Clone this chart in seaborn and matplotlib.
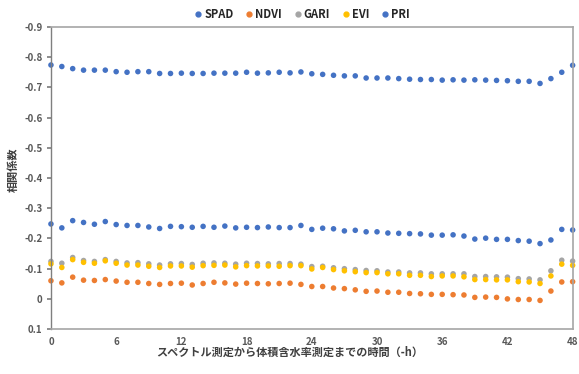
import matplotlib
matplotlib.use("Agg")
import matplotlib.pyplot as plt
from matplotlib.lines import Line2D
import pandas as pd
import seaborn as sns

hours = list(range(49))

spad = [-0.774, -0.769, -0.762, -0.757, -0.757, -0.757, -0.752, -0.750, -0.752, -0.752,
        -0.746, -0.746, -0.747, -0.746, -0.746, -0.747, -0.747, -0.747, -0.750, -0.747,
        -0.748, -0.750, -0.748, -0.751, -0.745, -0.743, -0.740, -0.738, -0.738, -0.731,
        -0.731, -0.731, -0.729, -0.727, -0.726, -0.726, -0.724, -0.725, -0.724, -0.725,
        -0.724, -0.723, -0.722, -0.720, -0.720, -0.713, -0.729, -0.750, -0.773]
ndvi = [-0.060, -0.053, -0.072, -0.062, -0.061, -0.064, -0.059, -0.055, -0.055, -0.051,
        -0.048, -0.051, -0.052, -0.046, -0.051, -0.055, -0.053, -0.049, -0.052, -0.051,
        -0.050, -0.051, -0.052, -0.048, -0.041, -0.041, -0.036, -0.034, -0.030, -0.025,
        -0.026, -0.022, -0.022, -0.018, -0.017, -0.015, -0.015, -0.014, -0.013, -0.005,
        -0.006, -0.005, 0.000, 0.002, 0.002, 0.005, -0.026, -0.056, -0.057]
gari = [-0.124, -0.118, -0.137, -0.127, -0.124, -0.130, -0.124, -0.119, -0.120, -0.116,
        -0.112, -0.116, -0.117, -0.114, -0.118, -0.119, -0.118, -0.115, -0.118, -0.117,
        -0.116, -0.117, -0.117, -0.115, -0.107, -0.108, -0.103, -0.100, -0.097, -0.094,
        -0.093, -0.089, -0.089, -0.086, -0.086, -0.083, -0.083, -0.083, -0.083, -0.074,
        -0.074, -0.073, -0.072, -0.067, -0.066, -0.063, -0.093, -0.128, -0.125]
evi = [-0.116, -0.104, -0.130, -0.121, -0.118, -0.126, -0.118, -0.112, -0.112, -0.108,
       -0.104, -0.109, -0.109, -0.105, -0.110, -0.111, -0.112, -0.106, -0.110, -0.109,
       -0.109, -0.108, -0.110, -0.110, -0.099, -0.104, -0.097, -0.093, -0.090, -0.087,
       -0.087, -0.083, -0.083, -0.078, -0.078, -0.074, -0.076, -0.076, -0.073, -0.064,
       -0.064, -0.063, -0.063, -0.057, -0.056, -0.051, -0.076, -0.115, -0.111]
pri = [-0.248, -0.235, -0.259, -0.253, -0.247, -0.256, -0.246, -0.243, -0.243, -0.238,
       -0.233, -0.240, -0.239, -0.237, -0.240, -0.237, -0.241, -0.235, -0.237, -0.236,
       -0.238, -0.236, -0.236, -0.243, -0.230, -0.234, -0.232, -0.225, -0.227, -0.222,
       -0.222, -0.218, -0.217, -0.216, -0.215, -0.211, -0.211, -0.212, -0.208, -0.198,
       -0.201, -0.197, -0.197, -0.193, -0.191, -0.183, -0.195, -0.230, -0.228]

series = ["SPAD", "NDVI", "GARI", "EVI", "PRI"]
colors = ["#4472C4", "#ED7D31", "#A5A5A5", "#FFC000", "#4472C4"]
yticks = [-0.9, -0.8, -0.7, -0.6, -0.5, -0.4, -0.3, -0.2, -0.1, 0, 0.1]
ytick_labels = ["-0.9", "-0.8", "-0.7", "-0.6", "-0.5", "-0.4", "-0.3", "-0.2", "-0.1", "0", "0.1"]
xticks = [0, 6, 12, 18, 24, 30, 36, 42, 48]

df = pd.DataFrame({"hour": hours * 5,
                   "r": spad + ndvi + gari + evi + pri,
                   "index": [s for s in series for _ in hours]})

sns.set_theme(style="white")
plt.rcParams["font.family"] = ["Noto Sans CJK JP", "DejaVu Sans"]
plt.rcParams["font.weight"] = "bold"

fig = plt.figure(figsize=(5.79, 3.74), dpi=100)
ax = fig.add_axes([0.088, 0.12, 0.901, 0.808])

sns.scatterplot(data=df, x="hour", y="r", hue="index", hue_order=series,
                palette=colors, s=16, linewidth=0, clip_on=False, legend=False, ax=ax)

ax.set_xlim(0, 48)
ax.set_ylim(0.1, -0.9)
ax.set_xticks(xticks)
ax.set_xticklabels([str(x) for x in xticks], fontsize=7, color="#595959", fontweight="bold")
ax.set_yticks(yticks)
ax.set_yticklabels(ytick_labels, fontsize=7, color="#595959", fontweight="bold")
ax.tick_params(axis="x", direction="in", length=3, color="#A6A6A6", pad=6)
ax.tick_params(axis="y", direction="out", length=3, color="#808080", pad=3, left=True)
ax.set_xlabel("")
ax.set_ylabel("")

for side in ["top", "right", "bottom"]:
    ax.spines[side].set_color("#A6A6A6")
    ax.spines[side].set_linewidth(1.2)
ax.spines["left"].set_color("#7F7F7F")
ax.spines["left"].set_linewidth(1.0)

fig.text(0.50, 0.057, "スペクトル測定から体積含水率測定までの時間（-h）",
         ha="center", va="center", fontsize=8, color="#404040", fontweight="bold")
fig.text(0.022, 0.545, "相関係数", ha="center", va="center", rotation=90,
         fontsize=8, color="#404040", fontweight="bold")

handles = [Line2D([], [], marker="o", linestyle="", color=c, markersize=3.5) for c in colors]
fig.legend(handles, series, loc="center", bbox_to_anchor=(0.52, 0.962), ncol=5,
           frameon=False, handletextpad=0.05, columnspacing=0.9,
           handlelength=1.0, prop={"weight": "bold", "size": 8})

fig.savefig("out.png", dpi=100)
